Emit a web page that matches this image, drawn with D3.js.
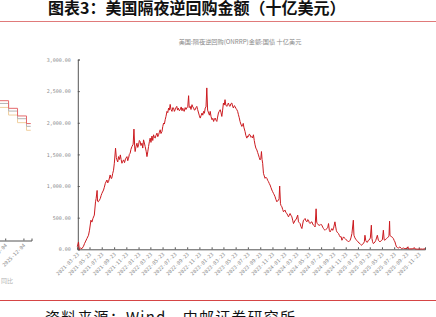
<!doctype html>
<html lang="zh-CN">
<head>
<meta charset="UTF-8" />
<title>美国隔夜逆回购金额</title>
<script src="https://d3js.org/d3.v7.min.js"></script>
<style>
  body { margin: 0; background: #fff; }
  svg { display: block; font-family: 'Noto Sans CJK SC', sans-serif; }
  .axis text { font-family: 'DejaVu Sans Mono', monospace; font-size: 5px; fill: #8a8a8a; }
  .axis path, .axis line { stroke: #555; }
</style>
</head>
<body>
<svg id="chart" width="436" height="317"></svg>
<script>
// y axis ticks (十亿美元)
const yTicks = [0, 500, 1000, 1500, 2000, 2500, 3000]

// x axis tick labels, every two months
const xTickLabels = [
  '2021-03-23', '2021-05-23', '2021-07-23', '2021-09-23', '2021-11-23',
  '2022-01-23', '2022-03-23', '2022-05-23', '2022-07-23', '2022-09-23', '2022-11-23',
  '2023-01-23', '2023-03-23', '2023-05-23', '2023-07-23', '2023-09-23', '2023-11-23',
  '2024-01-23', '2024-03-23', '2024-05-23', '2024-07-23', '2024-09-23', '2024-11-23',
  '2025-01-23', '2025-03-23', '2025-05-23', '2025-07-23', '2025-09-23', '2025-11-23'
]

// ON RRP amount
const onrrp = [
  ['2021-03-23', 40], ['2021-03-29', 116], ['2021-04-02', 2], ['2021-04-08', 20], ['2021-04-15', 10],
  ['2021-04-23', 48], ['2021-04-28', 90], ['2021-05-02', 116], ['2021-05-10', 170], ['2021-05-18', 222],
  ['2021-05-23', 302], ['2021-05-30', 460], ['2021-06-04', 430], ['2021-06-09', 487], ['2021-06-16', 540],
  ['2021-06-22', 751], ['2021-06-25', 800], ['2021-06-30', 930], ['2021-07-02', 760], ['2021-07-06', 751],
  ['2021-07-12', 780], ['2021-07-16', 804], ['2021-07-20', 850], ['2021-07-24', 884], ['2021-08-01', 937],
  ['2021-08-05', 980], ['2021-08-10', 1043], ['2021-08-18', 1095], ['2021-08-22', 1050], ['2021-08-26', 1069],
  ['2021-09-03', 1175], ['2021-09-08', 1120], ['2021-09-11', 1122], ['2021-09-16', 1200], ['2021-09-20', 1250],
  ['2021-09-24', 1360], ['2021-09-30', 1598], ['2021-10-04', 1450], ['2021-10-07', 1413], ['2021-10-11', 1380],
  ['2021-10-15', 1465], ['2021-10-20', 1420], ['2021-10-24', 1492], ['2021-10-28', 1420], ['2021-11-01', 1360],
  ['2021-11-05', 1390], ['2021-11-09', 1413], ['2021-11-14', 1370], ['2021-11-19', 1430], ['2021-11-26', 1465],
  ['2021-11-30', 1400], ['2021-12-04', 1440], ['2021-12-08', 1500], ['2021-12-12', 1519], ['2021-12-16', 1580],
  ['2021-12-21', 1624], ['2021-12-27', 1660], ['2021-12-31', 1900], ['2022-01-04', 1600], ['2022-01-06', 1545],
  ['2022-01-10', 1620], ['2022-01-15', 1677], ['2022-01-19', 1610], ['2022-01-23', 1650], ['2022-01-27', 1720],
  ['2022-01-31', 1703], ['2022-02-04', 1640], ['2022-02-09', 1677], ['2022-02-13', 1600], ['2022-02-17', 1730],
  ['2022-02-21', 1680], ['2022-02-25', 1624], ['2022-03-02', 1550], ['2022-03-06', 1465], ['2022-03-10', 1540],
  ['2022-03-14', 1624], ['2022-03-18', 1700], ['2022-03-22', 1757], ['2022-03-26', 1690], ['2022-03-31', 1790],
  ['2022-04-04', 1720], ['2022-04-08', 1810], ['2022-04-12', 1770], ['2022-04-16', 1757], ['2022-04-20', 1800],
  ['2022-04-25', 1836], ['2022-04-29', 1780], ['2022-05-03', 1810], ['2022-05-07', 1850], ['2022-05-11', 1889],
  ['2022-05-15', 1830], ['2022-05-20', 1862], ['2022-05-24', 1940], ['2022-05-28', 1995], ['2022-06-01', 1980],
  ['2022-06-05', 2048], ['2022-06-09', 2100], ['2022-06-14', 2180], ['2022-06-18', 2160], ['2022-06-22', 2233],
  ['2022-06-26', 2200], ['2022-06-30', 2290], ['2022-07-04', 2210], ['2022-07-09', 2180], ['2022-07-13', 2240],
  ['2022-07-17', 2233], ['2022-07-21', 2180], ['2022-07-25', 2206], ['2022-07-29', 2240], ['2022-08-02', 2259],
  ['2022-08-06', 2200], ['2022-08-10', 2230], ['2022-08-15', 2190], ['2022-08-19', 2206], ['2022-08-24', 2250],
  ['2022-08-28', 2190], ['2022-09-01', 2230], ['2022-09-04', 2206], ['2022-09-08', 2180], ['2022-09-13', 2240],
  ['2022-09-17', 2210], ['2022-09-21', 2233], ['2022-09-26', 2260], ['2022-09-30', 2428], ['2022-10-03', 2240],
  ['2022-10-08', 2259], ['2022-10-12', 2210], ['2022-10-17', 2286], ['2022-10-21', 2250], ['2022-10-25', 2233],
  ['2022-10-29', 2200], ['2022-11-02', 2206], ['2022-11-06', 2240], ['2022-11-10', 2259], ['2022-11-14', 2210],
  ['2022-11-19', 2154], ['2022-11-23', 2110], ['2022-11-27', 2074], ['2022-12-01', 2110], ['2022-12-06', 2154],
  ['2022-12-10', 2120], ['2022-12-14', 2180], ['2022-12-18', 2150], ['2022-12-22', 2233], ['2022-12-26', 2250],
  ['2022-12-30', 2551], ['2023-01-03', 2200], ['2023-01-08', 2154], ['2023-01-12', 2120], ['2023-01-16', 2180],
  ['2023-01-20', 2100], ['2023-01-25', 2048], ['2023-01-29', 2070], ['2023-02-02', 2021], ['2023-02-06', 2060],
  ['2023-02-10', 2074], ['2023-02-14', 2040], ['2023-02-18', 2021], ['2023-02-22', 2090], ['2023-02-26', 2154],
  ['2023-03-02', 2180], ['2023-03-07', 2206], ['2023-03-11', 2160], ['2023-03-15', 2100], ['2023-03-19', 2200],
  ['2023-03-23', 2312], ['2023-03-27', 2280], ['2023-03-31', 2365], ['2023-04-04', 2280], ['2023-04-09', 2259],
  ['2023-04-13', 2290], ['2023-04-17', 2312], ['2023-04-21', 2270], ['2023-04-25', 2259], ['2023-04-29', 2300],
  ['2023-05-04', 2312], ['2023-05-08', 2260], ['2023-05-12', 2233], ['2023-05-16', 2270], ['2023-05-20', 2259],
  ['2023-05-24', 2230], ['2023-05-29', 2206], ['2023-06-02', 2180], ['2023-06-06', 2127], ['2023-06-10', 2080],
  ['2023-06-14', 2021], ['2023-06-18', 1980], ['2023-06-23', 1942], ['2023-06-27', 1960], ['2023-06-30', 1990],
  ['2023-07-03', 1930], ['2023-07-09', 1862], ['2023-07-13', 1800], ['2023-07-18', 1757], ['2023-07-22', 1790],
  ['2023-07-26', 1783], ['2023-07-30', 1820], ['2023-08-03', 1810], ['2023-08-08', 1770], ['2023-08-12', 1783],
  ['2023-08-16', 1760], ['2023-08-20', 1810], ['2023-08-24', 1720], ['2023-08-28', 1651], ['2023-09-01', 1600],
  ['2023-09-06', 1571], ['2023-09-10', 1530], ['2023-09-14', 1492], ['2023-09-18', 1450], ['2023-09-22', 1413],
  ['2023-09-26', 1440], ['2023-09-29', 1545], ['2023-10-02', 1420], ['2023-10-05', 1360], ['2023-10-09', 1201],
  ['2023-10-13', 1160], ['2023-10-17', 1122], ['2023-10-21', 1140], ['2023-10-26', 1122], ['2023-10-30', 1090],
  ['2023-11-03', 1069], ['2023-11-07', 1040], ['2023-11-11', 1016], ['2023-11-15', 980], ['2023-11-20', 937],
  ['2023-11-24', 910], ['2023-11-28', 884], ['2023-12-02', 860], ['2023-12-06', 831], ['2023-12-10', 790],
  ['2023-12-15', 751], ['2023-12-19', 770], ['2023-12-23', 775], ['2023-12-26', 800], ['2023-12-29', 1000],
  ['2024-01-02', 720], ['2024-01-05', 690], ['2024-01-09', 672], ['2024-01-13', 630], ['2024-01-17', 593],
  ['2024-01-21', 610], ['2024-01-25', 619], ['2024-01-29', 580], ['2024-02-03', 566], ['2024-02-07', 540],
  ['2024-02-11', 513], ['2024-02-15', 540], ['2024-02-19', 566], ['2024-02-23', 540], ['2024-02-28', 513],
  ['2024-03-03', 460], ['2024-03-07', 407], ['2024-03-11', 430], ['2024-03-15', 460], ['2024-03-20', 470],
  ['2024-03-28', 540], ['2024-04-01', 434], ['2024-04-05', 420], ['2024-04-09', 407], ['2024-04-13', 360],
  ['2024-04-18', 328], ['2024-04-22', 400], ['2024-04-26', 460], ['2024-04-30', 470], ['2024-05-04', 487],
  ['2024-05-08', 450], ['2024-05-13', 434], ['2024-05-17', 470], ['2024-05-21', 460], ['2024-05-25', 420],
  ['2024-05-29', 407], ['2024-06-03', 430], ['2024-06-07', 434], ['2024-06-11', 400], ['2024-06-15', 381],
  ['2024-06-19', 370], ['2024-06-23', 354], ['2024-06-28', 640], ['2024-07-01', 430], ['2024-07-04', 407],
  ['2024-07-08', 390], ['2024-07-13', 381], ['2024-07-18', 381], ['2024-07-22', 395], ['2024-07-27', 381],
  ['2024-07-31', 350], ['2024-08-04', 328], ['2024-08-08', 310], ['2024-08-12', 302], ['2024-08-16', 315],
  ['2024-08-21', 328], ['2024-08-25', 340], ['2024-08-29', 407], ['2024-09-02', 300], ['2024-09-06', 275],
  ['2024-09-10', 300], ['2024-09-15', 328], ['2024-09-19', 300], ['2024-09-23', 330], ['2024-09-30', 434],
  ['2024-10-04', 354], ['2024-10-07', 300], ['2024-10-10', 275], ['2024-10-14', 260], ['2024-10-18', 249],
  ['2024-10-22', 220], ['2024-10-26', 196], ['2024-10-31', 200], ['2024-11-04', 143], ['2024-11-08', 170],
  ['2024-11-12', 196], ['2024-11-16', 180], ['2024-11-20', 170], ['2024-11-25', 150], ['2024-11-29', 143],
  ['2024-12-03', 130], ['2024-12-07', 116], ['2024-12-11', 130], ['2024-12-15', 143], ['2024-12-19', 180],
  ['2024-12-24', 249], ['2024-12-31', 460], ['2025-01-03', 222], ['2025-01-08', 180], ['2025-01-12', 160],
  ['2025-01-16', 143], ['2025-01-20', 130], ['2025-01-24', 116], ['2025-01-28', 100], ['2025-02-02', 90],
  ['2025-02-06', 75], ['2025-02-10', 63], ['2025-02-14', 80], ['2025-02-19', 90], ['2025-02-24', 120],
  ['2025-02-27', 222], ['2025-03-03', 140], ['2025-03-07', 116], ['2025-03-11', 110], ['2025-03-16', 143],
  ['2025-03-21', 150], ['2025-03-26', 180], ['2025-03-31', 381], ['2025-04-03', 170], ['2025-04-06', 120],
  ['2025-04-10', 90], ['2025-04-14', 100], ['2025-04-18', 116], ['2025-04-22', 140], ['2025-04-30', 222],
  ['2025-05-05', 143], ['2025-05-09', 130], ['2025-05-13', 116], ['2025-05-17', 130], ['2025-05-21', 143],
  ['2025-05-25', 150], ['2025-05-30', 302], ['2025-06-03', 150], ['2025-06-07', 143], ['2025-06-11', 160],
  ['2025-06-15', 170], ['2025-06-19', 180], ['2025-06-24', 196], ['2025-06-27', 210], ['2025-06-30', 444],
  ['2025-07-02', 222], ['2025-07-06', 210], ['2025-07-10', 196], ['2025-07-14', 190], ['2025-07-19', 170],
  ['2025-07-23', 140], ['2025-07-27', 116], ['2025-07-31', 70], ['2025-08-04', 37], ['2025-08-08', 28],
  ['2025-08-13', 20], ['2025-08-17', 30], ['2025-08-21', 37], ['2025-08-25', 20], ['2025-08-29', 10],
  ['2025-09-03', 15], ['2025-09-07', 20], ['2025-09-11', 15], ['2025-09-15', 10], ['2025-09-20', 12],
  ['2025-09-25', 15], ['2025-09-30', 40], ['2025-10-02', 5], ['2025-10-08', 8], ['2025-10-15', 6],
  ['2025-10-21', 8], ['2025-10-27', 10], ['2025-10-31', 28], ['2025-11-04', 5], ['2025-11-10', 4],
  ['2025-11-17', 3], ['2025-11-24', 4], ['2025-11-29', 3], ['2025-12-05', 5], ['2025-12-12', 3],
  ['2025-12-18', 5], ['2025-12-24', 8]
]

// cut-off neighbour chart on the left edge (policy rate steps, %)
const leftDates = ['2025-08-01', '2025-09-18', '2025-10-30', '2025-12-11', '2025-12-31']
const leftRed = [4.50, 4.25, 4.00, 3.75, 3.75]
const leftGray = [4.41, 4.16, 3.91, 3.66, 3.66]
const leftTan = [4.28, 4.03, 3.78, 3.53, 3.53]
const leftTicks = ['2025-10-04', '2025-12-04']

const parse = d3.timeParse('%Y-%m-%d')
const fmtDate = d3.timeFormat('%Y-%m-%d')
const data = onrrp.map(([d, v]) => ({ date: parse(d), value: v }))

const svg = d3.select('#chart')

// title + red rules
svg.append('text')
  .attr('x', 48).attr('y', 14)
  .attr('font-size', 16).attr('font-weight', 700).attr('fill', '#111')
  .text('图表3：美国隔夜逆回购金额（十亿美元）')

svg.append('line')
  .attr('x1', 0).attr('x2', 436).attr('y1', 21.5).attr('y2', 21.5)
  .attr('stroke', '#e07a7a').attr('stroke-width', 1.2)

svg.append('line')
  .attr('x1', 0).attr('x2', 436).attr('y1', 300.5).attr('y2', 300.5)
  .attr('stroke', '#d64545').attr('stroke-width', 1.2)

svg.append('text')
  .attr('x', 45).attr('y', 323)
  .attr('font-size', 15).attr('letter-spacing', 1.2).attr('fill', '#111')
  .text('资料来源：Wind，中邮证券研究所')

// subtitle
svg.append('text')
  .attr('x', 240).attr('y', 44)
  .attr('text-anchor', 'middle')
  .attr('font-size', 6.2).attr('fill', '#8a8a8a')
  .text('美国:隔夜逆回购(ONRRP)金额:国债 十亿美元')

// main chart
const x = d3.scaleTime()
  .domain([parse('2021-03-23'), parse('2025-12-24')])
  .range([77.3, 425])

const y = d3.scaleLinear().domain([0, 3000]).range([249.3, 59.5])

const yAxis = svg.append('g')
  .attr('class', 'axis')
  .attr('transform', 'translate(77.8,0)')
  .call(d3.axisLeft(y).tickValues(yTicks).tickSize(-2).tickPadding(7).tickFormat(d3.format(',.2f')))
yAxis.select('.domain').attr('stroke', '#666')

const xAxis = svg.append('g')
  .attr('class', 'axis')
  .attr('transform', `translate(0,${y(0)})`)
  .call(d3.axisBottom(x).tickValues(xTickLabels.map(parse)).tickSize(-2).tickFormat(fmtDate))
xAxis.select('.domain').attr('stroke', '#333')
xAxis.selectAll('text')
  .attr('x', 0).attr('y', 0).attr('dy', '0.35em')
  .attr('text-anchor', 'end')
  .attr('transform', 'translate(0.5,4) rotate(-45)')

const line = d3.line().x((d) => x(d.date)).y((d) => y(d.value))

svg.append('path')
  .datum(data)
  .attr('fill', 'none')
  .attr('stroke', '#cc1a1f')
  .attr('stroke-width', 1)
  .attr('stroke-linejoin', 'round')
  .attr('d', line)

// left fragment of the neighbouring chart
const lx = d3.scaleTime()
  .domain([parse('2025-10-04'), parse('2025-12-04')])
  .range([12, 25])
const ly = d3.scaleLinear().domain([3.5, 4.5]).range([131.2, 100.7])

const stepLine = d3.line()
  .curve(d3.curveStepAfter)
  .x((d) => lx(d.date))
  .y((d) => ly(d.value))

const leftSeries = [
  { values: leftTan, color: '#f0cf9e' },
  { values: leftGray, color: '#b5b5b5' },
  { values: leftRed, color: '#e4696c' },
]
leftSeries.forEach((s) => {
  svg.append('path')
    .datum(leftDates.map((d, i) => ({ date: parse(d), value: s.values[i] })))
    .attr('fill', 'none')
    .attr('stroke', s.color)
    .attr('stroke-width', 1)
    .attr('d', stepLine)
})

const leftAxis = svg.append('g')
  .attr('class', 'axis')
  .attr('transform', 'translate(0,240.5)')
  .call(d3.axisBottom(lx.copy().domain([parse('2025-07-25'), parse('2025-12-31')]).range([-16, 31.5]))
    .tickValues(leftTicks.map(parse)).tickSize(-2).tickFormat(fmtDate))
leftAxis.select('.domain').attr('stroke', '#555')
leftAxis.selectAll('text')
  .attr('x', 0).attr('y', 0).attr('dy', '0.35em')
  .attr('text-anchor', 'end')
  .attr('transform', 'translate(0.5,4) rotate(-45)')

svg.append('text')
  .attr('x', 1).attr('y', 283)
  .attr('font-size', 6).attr('fill', '#b0b0b0')
  .text('同比')
</script>
</body>
</html>
